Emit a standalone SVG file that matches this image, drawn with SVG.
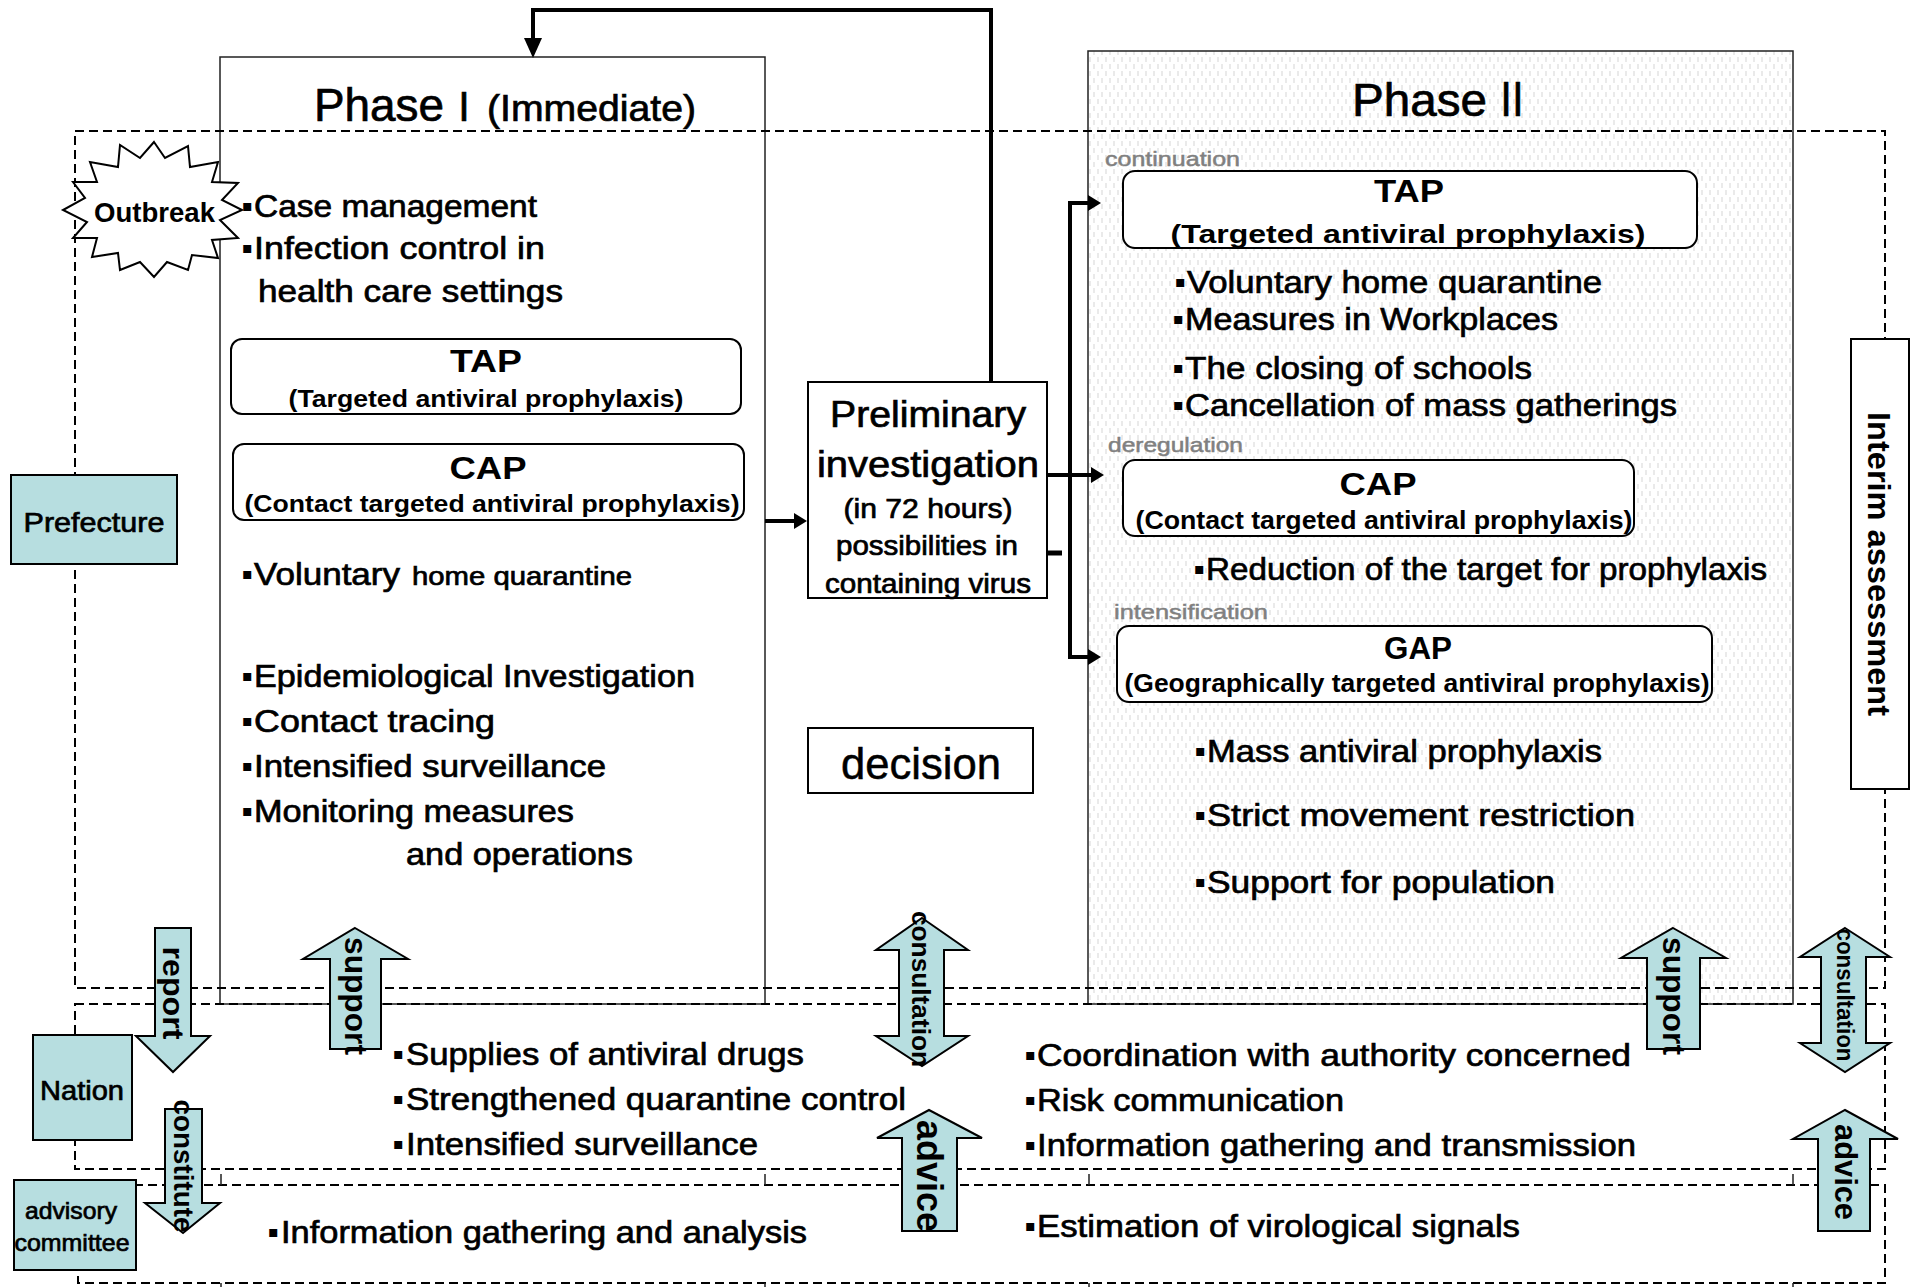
<svg xmlns="http://www.w3.org/2000/svg" width="1910" height="1287" viewBox="0 0 1910 1287">
<defs>
<pattern id="dots" width="8" height="14" patternUnits="userSpaceOnUse">
<rect width="8" height="14" fill="#fff"/>
<path d="M2 1v5M6 8v5" stroke="#d6d6d6" stroke-width="1"/>
</pattern>
<style>
.t{font-family:"Liberation Sans","Noto Sans CJK JP",sans-serif;fill:#000}
.n{font-size:32px;stroke:#000;stroke-width:0.7px}
.hv{stroke:#000;stroke-width:0.7px}
.s27{font-size:27px}
.bl{font-size:16px;font-family:"DejaVu Sans",sans-serif;stroke:none}
.bd{font-weight:bold}
.m{text-anchor:middle}
.g{font-size:21px;fill:#808080;stroke:#808080;stroke-width:0.5px}
.dash{fill:none;stroke:#000;stroke-width:2;stroke-dasharray:9 5}
.blk{fill:#b7dee0;stroke:#000;stroke-width:2}
.rb{fill:#fff;stroke:#000;stroke-width:2}
.ph{stroke:#222;stroke-width:1.5}
.con{fill:none;stroke:#000;stroke-width:4}
.ah{fill:#000}
.lab{fill:#b7dee0;stroke:#000;stroke-width:2}
.vt{font-family:"Liberation Sans",sans-serif;font-weight:bold;text-anchor:middle;dominant-baseline:central;fill:#000}
.tick{stroke:#222;stroke-width:1.5}
</style>
</defs>
<rect width="1910" height="1287" fill="#fff"/>

<g id="phase2">
<rect x="1088" y="51" width="705" height="953" fill="url(#dots)" class="ph"/>
</g>
<g id="phase1">
<rect x="220" y="57" width="545" height="947" fill="none" class="ph"/>
</g>

<g id="regions">
<rect class="dash" x="75" y="131" width="1810" height="857"/>
<rect class="dash" x="75" y="1004" width="1810" height="165"/>
<rect class="dash" x="78" y="1185" width="1807" height="98"/>
<path class="tick" d="M221 1174V1185M765 1174V1185M1089 1174V1185M1793 1174V1185M221 1283V1287M765 1283V1287M1089 1283V1287M1793 1283V1287"/>
</g>

<g id="phase1-title">
<text class="t hv" x="314" y="121" font-size="47" textLength="130" lengthAdjust="spacingAndGlyphs">Phase</text>
<text class="t hv" x="444" y="121" font-size="40">Ⅰ</text>
<text class="t hv" x="487" y="121" font-size="36" textLength="209" lengthAdjust="spacingAndGlyphs">(Immediate)</text>
</g>
<g id="phase2-title">
<text class="t hv" y="116"><tspan x="1352" font-size="47" textLength="135" lengthAdjust="spacingAndGlyphs">Phase</tspan><tspan x="1492" font-size="47" textLength="40" lengthAdjust="spacingAndGlyphs">Ⅱ</tspan></text>
</g>

<g id="outbreak">
<polygon class="rb" points="154,142 165,158 188,146 190,167 218,162 212,182 238,183 222,200 242,210 220,220 238,238 212,240 218,258 192,255 188,270 167,262 154,277 140,262 120,270 118,253 92,257 97,238 73,238 87,222 63,210 85,198 73,182 97,182 90,162 118,167 120,145 140,158"/>
<text class="t bd m" x="154.5" y="222" font-size="27" textLength="121" lengthAdjust="spacingAndGlyphs">Outbreak</text>
</g>

<g id="phase1-items">
<text class="t n"><tspan class="bl" x="242" y="211">▪</tspan><tspan x="254" y="217" textLength="283" lengthAdjust="spacingAndGlyphs">Case management</tspan></text>
<text class="t n"><tspan class="bl" x="242" y="253">▪</tspan><tspan x="254" y="259" textLength="291" lengthAdjust="spacingAndGlyphs">Infection control in</tspan></text>
<text class="t n" x="258" y="302" textLength="305" lengthAdjust="spacingAndGlyphs">health care settings</text>
<text class="t n"><tspan class="bl" x="242" y="579">▪</tspan><tspan x="254" y="585" textLength="146" lengthAdjust="spacingAndGlyphs">Voluntary</tspan><tspan x="412" y="585" font-size="26" textLength="220" lengthAdjust="spacingAndGlyphs">home quarantine</tspan></text>
<text class="t n"><tspan class="bl" x="242" y="681">▪</tspan><tspan x="254" y="687" textLength="441" lengthAdjust="spacingAndGlyphs">Epidemiological Investigation</tspan></text>
<text class="t n"><tspan class="bl" x="242" y="726">▪</tspan><tspan x="254" y="732" textLength="241" lengthAdjust="spacingAndGlyphs">Contact tracing</tspan></text>
<text class="t n"><tspan class="bl" x="242" y="771">▪</tspan><tspan x="254" y="777" textLength="352" lengthAdjust="spacingAndGlyphs">Intensified surveillance</tspan></text>
<text class="t n"><tspan class="bl" x="242" y="816">▪</tspan><tspan x="254" y="822" textLength="320" lengthAdjust="spacingAndGlyphs">Monitoring measures</tspan></text>
<text class="t n" x="406" y="865" textLength="227" lengthAdjust="spacingAndGlyphs">and operations</text>
</g>

<g id="tap1">
<rect class="rb" x="231" y="339" width="510" height="75" rx="11"/>
<text class="t bd m" x="486" y="372" font-size="32" textLength="72" lengthAdjust="spacingAndGlyphs">TAP</text>
<text class="t bd m" x="486" y="407" font-size="24" textLength="395" lengthAdjust="spacingAndGlyphs">(Targeted antiviral prophylaxis)</text>
</g>
<g id="cap1">
<rect class="rb" x="233" y="444" width="511" height="76" rx="11"/>
<text class="t bd m" x="488" y="479" font-size="32" textLength="77" lengthAdjust="spacingAndGlyphs">CAP</text>
<text class="t bd m" x="492" y="512" font-size="24" textLength="495" lengthAdjust="spacingAndGlyphs">(Contact targeted antiviral prophylaxis)</text>
</g>

<g id="preliminary">
<rect class="rb" x="808" y="382" width="239" height="216"/>
<text class="t m hv" x="928" y="427" font-size="36" textLength="196" lengthAdjust="spacingAndGlyphs">Preliminary</text>
<text class="t m hv" x="928" y="477" font-size="36" textLength="222" lengthAdjust="spacingAndGlyphs">investigation</text>
<text class="t m s27 hv" x="928" y="518" textLength="169" lengthAdjust="spacingAndGlyphs">(in 72 hours)</text>
<text class="t m s27 hv" x="927" y="555" textLength="182" lengthAdjust="spacingAndGlyphs">possibilities in</text>
<text class="t m s27 hv" x="928" y="593" textLength="206" lengthAdjust="spacingAndGlyphs">containing virus</text>
</g>

<g id="decision">
<rect class="rb" x="808" y="728" width="225" height="65"/>
<text class="t m" x="921" y="779" font-size="44" stroke="#000" stroke-width="0.5" textLength="160" lengthAdjust="spacingAndGlyphs">decision</text>
</g>

<g id="phase2-items">
<text class="t g" x="1105" y="166" textLength="135" lengthAdjust="spacingAndGlyphs">continuation</text>
<text class="t n"><tspan class="bl" x="1175" y="287">▪</tspan><tspan x="1187" y="293" textLength="415" lengthAdjust="spacingAndGlyphs">Voluntary home quarantine</tspan></text>
<text class="t n"><tspan class="bl" x="1173" y="324">▪</tspan><tspan x="1185" y="330" textLength="373" lengthAdjust="spacingAndGlyphs">Measures in Workplaces</tspan></text>
<text class="t n"><tspan class="bl" x="1173" y="373">▪</tspan><tspan x="1185" y="379" textLength="347" lengthAdjust="spacingAndGlyphs">The closing of schools</tspan></text>
<text class="t n"><tspan class="bl" x="1173" y="410">▪</tspan><tspan x="1185" y="416" textLength="492" lengthAdjust="spacingAndGlyphs">Cancellation of mass gatherings</tspan></text>
<text class="t g" x="1108" y="452" textLength="135" lengthAdjust="spacingAndGlyphs">deregulation</text>
<text class="t n"><tspan class="bl" x="1194" y="574">▪</tspan><tspan x="1206" y="580" textLength="561" lengthAdjust="spacingAndGlyphs">Reduction of the target for prophylaxis</tspan></text>
<text class="t g" x="1114" y="619" textLength="154" lengthAdjust="spacingAndGlyphs">intensification</text>
<text class="t n"><tspan class="bl" x="1195" y="756">▪</tspan><tspan x="1207" y="762" textLength="395" lengthAdjust="spacingAndGlyphs">Mass antiviral prophylaxis</tspan></text>
<text class="t n"><tspan class="bl" x="1195" y="820">▪</tspan><tspan x="1207" y="826" textLength="428" lengthAdjust="spacingAndGlyphs">Strict movement restriction</tspan></text>
<text class="t n"><tspan class="bl" x="1195" y="887">▪</tspan><tspan x="1207" y="893" textLength="348" lengthAdjust="spacingAndGlyphs">Support for population</tspan></text>
</g>

<g id="tap2">
<rect class="rb" x="1123" y="171" width="574" height="77" rx="12"/>
<text class="t bd m" x="1409" y="202" font-size="32" textLength="70" lengthAdjust="spacingAndGlyphs">TAP</text>
<text class="t bd m" x="1408" y="243" font-size="26" textLength="475" lengthAdjust="spacingAndGlyphs">(Targeted antiviral prophylaxis)</text>
</g>
<g id="cap2">
<rect class="rb" x="1123" y="460" width="511" height="76" rx="12"/>
<text class="t bd m" x="1378" y="495" font-size="32" textLength="77" lengthAdjust="spacingAndGlyphs">CAP</text>
<text class="t bd m" x="1384" y="529" font-size="25" textLength="497" lengthAdjust="spacingAndGlyphs">(Contact targeted antiviral prophylaxis)</text>
</g>
<g id="gap">
<rect class="rb" x="1117" y="626" width="595" height="76" rx="12"/>
<text class="t bd m" x="1418" y="659" font-size="32" textLength="68" lengthAdjust="spacingAndGlyphs">GAP</text>
<text class="t bd m" x="1417" y="692" font-size="25" textLength="585" lengthAdjust="spacingAndGlyphs">(Geographically targeted antiviral prophylaxis)</text>
</g>

<g id="interim">
<rect class="rb" x="1851" y="339" width="58" height="450"/>
<text class="vt" transform="translate(1879 564) rotate(90)" font-size="32" textLength="304" lengthAdjust="spacingAndGlyphs">Interim assessment</text>
</g>

<g id="prefecture">
<rect class="lab" x="11" y="475" width="166" height="89"/>
<text class="t m hv" x="94" y="532" font-size="28" textLength="141" lengthAdjust="spacingAndGlyphs">Prefecture</text>
</g>
<g id="nation">
<rect class="lab" x="33" y="1035" width="99" height="105"/>
<text class="t m hv" x="82" y="1100" font-size="27" textLength="84" lengthAdjust="spacingAndGlyphs">Nation</text>
</g>
<g id="advisory">
<rect class="lab" x="14" y="1180" width="122" height="90"/>
<text class="t m hv" x="71" y="1219" font-size="24" textLength="92" lengthAdjust="spacingAndGlyphs">advisory</text>
<text class="t m hv" x="72" y="1251" font-size="24" textLength="115" lengthAdjust="spacingAndGlyphs">committee</text>
</g>

<g id="nation-items">
<text class="t n"><tspan class="bl" x="393" y="1059">▪</tspan><tspan x="406" y="1065" textLength="398" lengthAdjust="spacingAndGlyphs">Supplies of antiviral drugs</tspan></text>
<text class="t n"><tspan class="bl" x="393" y="1104">▪</tspan><tspan x="406" y="1110" textLength="500" lengthAdjust="spacingAndGlyphs">Strengthened quarantine control</tspan></text>
<text class="t n"><tspan class="bl" x="393" y="1149">▪</tspan><tspan x="406" y="1155" textLength="352" lengthAdjust="spacingAndGlyphs">Intensified surveillance</tspan></text>
<text class="t n"><tspan class="bl" x="1025" y="1060">▪</tspan><tspan x="1037" y="1066" textLength="594" lengthAdjust="spacingAndGlyphs">Coordination with authority concerned</tspan></text>
<text class="t n"><tspan class="bl" x="1025" y="1105">▪</tspan><tspan x="1037" y="1111" textLength="307" lengthAdjust="spacingAndGlyphs">Risk communication</tspan></text>
<text class="t n"><tspan class="bl" x="1025" y="1150">▪</tspan><tspan x="1037" y="1156" textLength="599" lengthAdjust="spacingAndGlyphs">Information gathering and transmission</tspan></text>
</g>
<g id="advisory-items">
<text class="t n"><tspan class="bl" x="268" y="1237">▪</tspan><tspan x="281" y="1243" textLength="526" lengthAdjust="spacingAndGlyphs">Information gathering and analysis</tspan></text>
<text class="t n"><tspan class="bl" x="1025" y="1231">▪</tspan><tspan x="1037" y="1237" textLength="483" lengthAdjust="spacingAndGlyphs">Estimation of virological signals</tspan></text>
</g>

<g id="connectors">
<path class="con" d="M991 382V10H533V40"/>
<polygon class="ah" points="524,38 542,38 533,58"/>
<path class="con" d="M765 521H796"/>
<polygon class="ah" points="794,513 794,529 807,521"/>
<path class="con" d="M1070 203V657M1068 203H1090M1068 657H1090M1047 475H1093"/>
<polygon class="ah" points="1088,195 1088,211 1101,203"/>
<polygon class="ah" points="1091,467 1091,483 1104,475"/>
<polygon class="ah" points="1088,649 1088,665 1101,657"/>
<path d="M1047 553H1062" stroke="#000" stroke-width="5"/>
</g>

<g id="flows">
<polygon class="blk" points="155,928 191,928 191,1036 210,1036 173,1072 136,1036 155,1036"/>
<text class="vt" transform="translate(173 993) rotate(90)" font-size="30" textLength="93" lengthAdjust="spacingAndGlyphs">report</text>
<polygon class="blk" points="355,928 408,959 381,959 381,1049 330,1049 330,959 303,959"/>
<text class="vt" transform="translate(355 996) rotate(90)" font-size="31" textLength="118" lengthAdjust="spacingAndGlyphs">support</text>
<polygon class="blk" points="922,918 968,950 944,950 944,1036 968,1036 922,1066 876,1036 899,1036 899,950 876,950"/>
<text class="vt" transform="translate(921 989) rotate(90)" font-size="26" textLength="156" lengthAdjust="spacingAndGlyphs">consultation</text>
<polygon class="blk" points="929,1110 982,1138 957,1138 957,1231 902,1231 902,1138 877,1138"/>
<text class="vt" transform="translate(929 1176) rotate(90)" font-size="36" textLength="112" lengthAdjust="spacingAndGlyphs">advice</text>
<polygon class="blk" points="165,1109 202,1109 202,1203 220,1203 183,1233 145,1203 165,1203"/>
<text class="vt" transform="translate(183 1166) rotate(90)" font-size="28" textLength="133" lengthAdjust="spacingAndGlyphs">constitute</text>
<polygon class="blk" points="1673,928 1726,958 1700,958 1700,1049 1647,1049 1647,958 1621,958"/>
<text class="vt" transform="translate(1673 996) rotate(90)" font-size="31" textLength="118" lengthAdjust="spacingAndGlyphs">support</text>
<polygon class="blk" points="1845,928 1890,957 1866,957 1866,1043 1890,1043 1845,1072 1800,1043 1821,1043 1821,957 1800,957"/>
<text class="vt" transform="translate(1845 995) rotate(90)" font-size="23" textLength="133" lengthAdjust="spacingAndGlyphs">consultation</text>
<polygon class="blk" points="1845,1110 1898,1139 1870,1139 1870,1231 1818,1231 1818,1139 1793,1139"/>
<text class="vt" transform="translate(1845 1172) rotate(90)" font-size="31" textLength="96" lengthAdjust="spacingAndGlyphs">advice</text>
</g>
</svg>
